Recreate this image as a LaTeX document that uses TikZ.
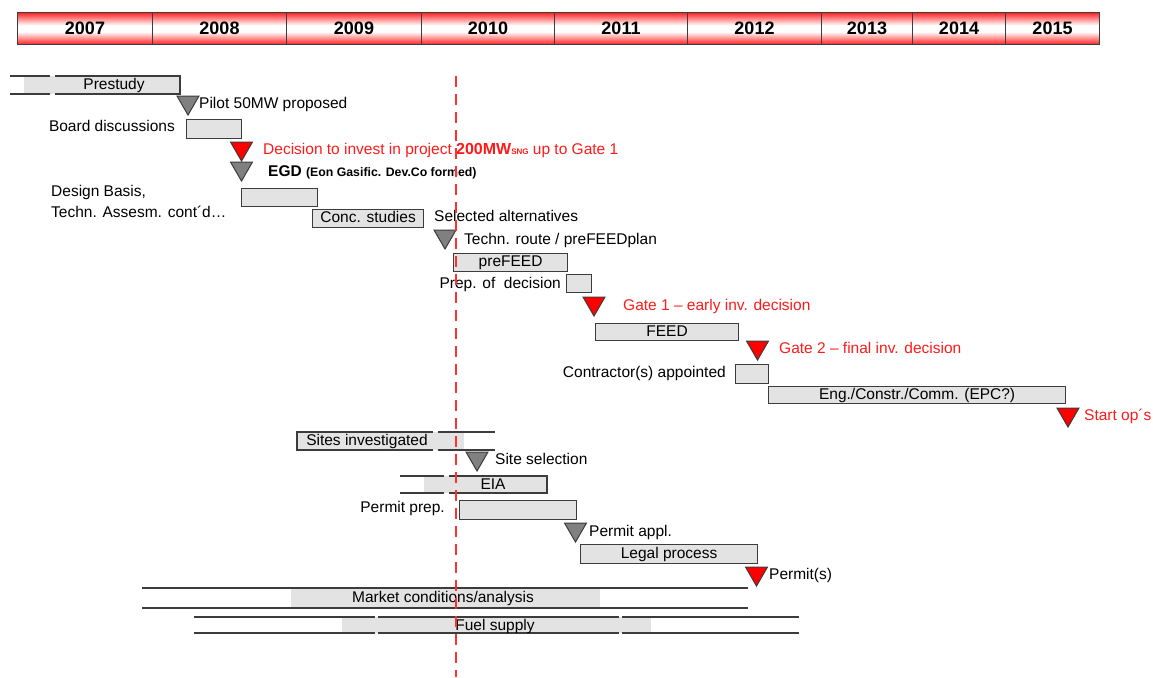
\documentclass[tikz,border=0pt]{standalone}
\usepackage{fontspec}
\setmainfont{Liberation Sans}
\usetikzlibrary{shapes.geometric}
\definecolor{barfill}{HTML}{E3E3E3}
\definecolor{barline}{HTML}{3C3C3C}
\definecolor{msgray}{HTML}{808080}
\definecolor{msred}{HTML}{FF0000}
\definecolor{dashred}{HTML}{FF3030}
\definecolor{txtred}{HTML}{FF1A1A}
\definecolor{hdred}{HTML}{FF2020}
\pgfdeclareverticalshading{yearshade}{100bp}{%
  color(0bp)=(hdred); color(25bp)=(hdred); color(45bp)=(white); color(55bp)=(white);
  color(75bp)=(hdred); color(100bp)=(hdred)}
\begin{document}
\begin{tikzpicture}[x=1pt,y=-1pt,
  every node/.style={inner sep=0pt, font=\fontsize{15.5}{18}\selectfont},
  lbl/.style={text height=11pt, text depth=0pt},
  redlbl/.style={lbl, text=txtred},
  bar/.style={draw=barline, fill=barfill, line width=1.2pt, anchor=north west,
    text height=11pt, text depth=3pt},
  barline/.style={draw=barline, line width=1.2pt},
  ms/.style={regular polygon, regular polygon sides=3, shape border rotate=180,
    minimum size=25.4pt, draw=barline, line width=1pt},
  msg/.style={ms, fill=msgray},
  msr/.style={ms, fill=msred},
  yearcell/.style={draw=barline, line width=1pt, anchor=north west, minimum height=32pt,
    shading=yearshade, text height=13pt, text depth=0pt,
    font=\fontsize{18}{20}\selectfont\bfseries},
]
\useasboundingbox (0,0) rectangle (1153,677);

% ---- header ----
\node[yearcell, minimum width=135pt] (y2007) at (17,12) {2007};
\node[yearcell, minimum width=134pt] (y2008) at (152,12) {2008};
\node[yearcell, minimum width=135pt] (y2009) at (286,12) {2009};
\node[yearcell, minimum width=133pt] (y2010) at (421,12) {2010};
\node[yearcell, minimum width=133pt] (y2011) at (554,12) {2011};
\node[yearcell, minimum width=134pt] (y2012) at (687,12) {2012};
\node[yearcell, minimum width=91pt] (y2013) at (821,12) {2013};
\node[yearcell, minimum width=93pt] (y2014) at (912,12) {2014};
\node[yearcell, minimum width=94pt] (y2015) at (1005,12) {2015};

% ---- Prestudy (open left) ----
\fill[barfill] (24,76) rectangle (180,94);
\draw[barline] (10,76) -- (50,76) (55,76) -- (180,76) -- (180,94) -- (55,94) (50,94) -- (10,94);
\node[lbl] (prestudy) at (114,84) {Prestudy};

\node[msg] (m1) at (188,102.35) {};
\node[lbl, anchor=west] (pilot) at (199,103) {Pilot 50MW proposed};

\node[lbl, anchor=east] (boardlbl) at (175,126) {Board discussions};
\node[bar, minimum width=55pt, minimum height=19pt] (board) at (186,119) {};

\node[msr] (m2) at (241.5,148.35) {};
\node[redlbl, anchor=west] (decision) at (263,149) {Decision to invest in project {\fontsize{16}{18}\selectfont\bfseries 200MW}{\fontsize{8}{9}\selectfont\bfseries SNG} up to Gate 1};

\node[msg] (m3) at (241.5,168.35) {};
\node[lbl, anchor=west] (egd) at (268,171) {\bfseries EGD {\fontsize{12.3}{14}\selectfont(Eon Gasific. Dev.Co formed)}};

\node[lbl, anchor=west] (design1) at (51,191) {Design Basis,};
\node[lbl, anchor=west] (design2) at (51,212) {Techn. Assesm. cont´d…};
\node[bar, minimum width=76pt, minimum height=18pt] (design) at (241,188) {};

\node[bar, minimum width=111pt, minimum height=18pt] (conc) at (312,209) {Conc. studies};
\node[lbl, anchor=west] (selected) at (434,216) {Selected alternatives};

\node[msg] (m4) at (445,236.35) {};
\node[lbl, anchor=west] (route) at (464,239) {Techn. route / preFEEDplan};

\node[bar, minimum width=114pt, minimum height=18pt] (prefeed) at (453,253) {preFEED};

\node[lbl, anchor=east] (preplbl) at (561,283) {Prep. of\ \ decision};
\node[bar, minimum width=25pt, minimum height=18pt] (prep) at (566,274) {};

\node[msr] (m5) at (594,303.35) {};
\node[redlbl, anchor=west] (gate1) at (623,305) {Gate 1 – early inv. decision};

\node[bar, minimum width=143pt, minimum height=17pt] (feed) at (595,323) {FEED};

\node[msr] (m6) at (757.5,347.35) {};
\node[redlbl, anchor=west] (gate2) at (779,348) {Gate 2 – final inv. decision};

\node[lbl, anchor=east] (contrlbl) at (726,372) {Contractor(s) appointed};
\node[bar, minimum width=33pt, minimum height=19pt] (contr) at (735,364) {};

\node[bar, minimum width=297pt, minimum height=17pt] (epc) at (768,386) {Eng./Constr./Comm. (EPC?)};

\node[msr] (m7) at (1068,414.35) {};
\node[redlbl, anchor=west] (startops) at (1084,415) {Start op´s};

% ---- Sites investigated (open right) ----
\fill[barfill] (297,432) rectangle (464,450);
\draw[barline] (433,432) -- (297,432) -- (297,450) -- (433,450) (438,432) -- (495,432) (438,450) -- (495,450);
\node[lbl] (sites) at (367,440) {Sites investigated};

\node[msg] (m8) at (477,458.35) {};
\node[lbl, anchor=west] (sitesel) at (495,459) {Site selection};

% ---- EIA (open left) ----
\fill[barfill] (424,476) rectangle (547,493);
\draw[barline] (400,476) -- (444,476) (400,493) -- (444,493) (449,476) -- (547,476) -- (547,493) -- (449,493);
\node[lbl] (eia) at (493,484) {EIA};

\node[lbl, anchor=east] (permprlbl) at (445,507) {Permit prep.};
\node[bar, minimum width=117pt, minimum height=19pt] (permpr) at (459,500) {};

\node[msg] (m9) at (575.5,529.35) {};
\node[lbl, anchor=west] (permappl) at (589,531) {Permit appl.};

\node[bar, minimum width=177pt, minimum height=19pt] (legal) at (580,544) {Legal process};

\node[msr] (m10) at (756.5,573.35) {};
\node[lbl, anchor=west] (permits) at (769,574) {Permit(s)};

% ---- Market conditions ----
\fill[barfill] (291,588) rectangle (600,608);
\draw[barline] (142,588) -- (748,588) (142,608) -- (748,608);
\node[lbl] (market) at (443,597) {Market conditions/analysis};

% ---- Fuel supply ----
\fill[barfill] (342,617) rectangle (651,633);
\draw[barline] (194,617) -- (375,617) (378,617) -- (619,617) (622,617) -- (799,617)
  (194,633) -- (375,633) (378,633) -- (619,633) (622,633) -- (799,633);
\node[lbl] (fuel) at (495,625) {Fuel supply};

% ---- today line ----
\coordinate (todaytop) at (456,76);
\coordinate (todaybot) at (456,677);
\draw[dashred, line width=2pt, dash pattern=on 11pt off 7pt] (todaytop) -- (todaybot);
\end{tikzpicture}
\end{document}
